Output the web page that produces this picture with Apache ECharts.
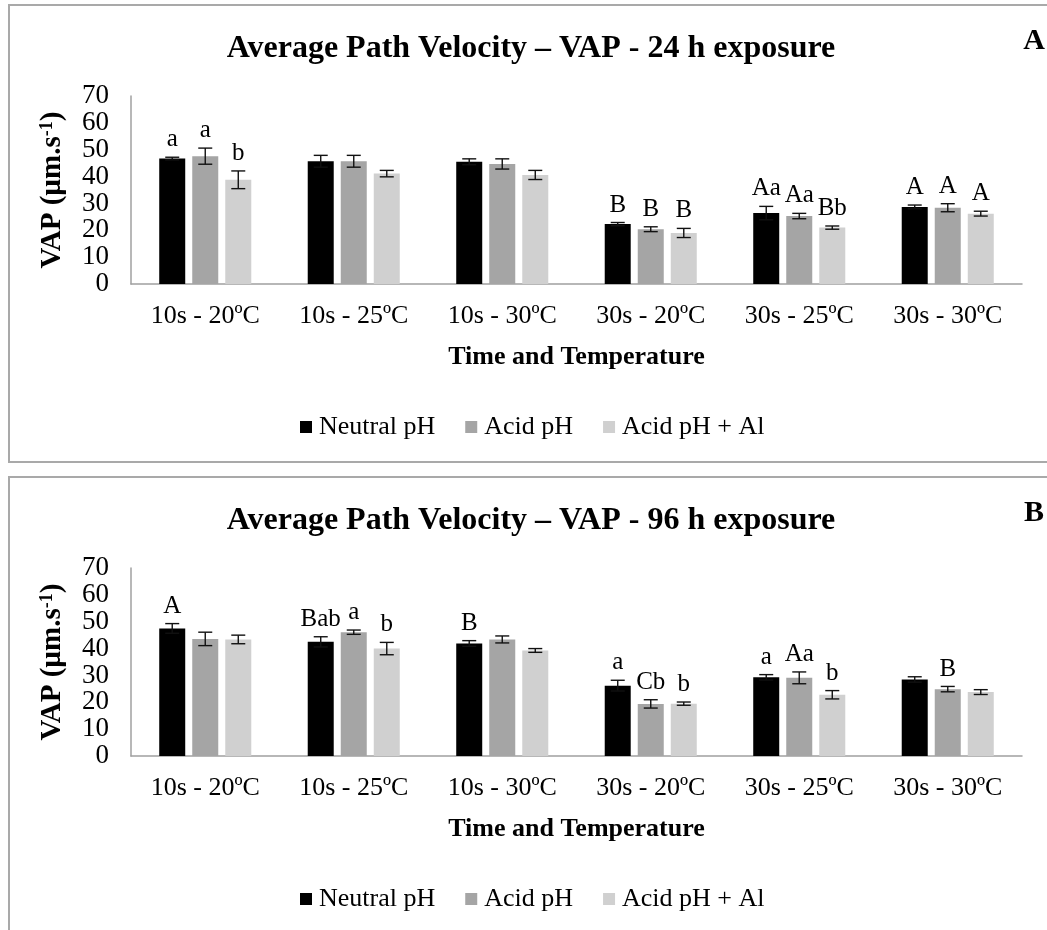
<!DOCTYPE html>
<html>
<head>
<meta charset="utf-8">
<script src="https://cdn.jsdelivr.net/npm/echarts@6/dist/echarts.min.js"></script>
<style>
  html, body { margin: 0; padding: 0; background: #ffffff; }
  #chart { width: 1047px; height: 930px; }
</style>
</head>
<body>
<div id="chart"></div>
<script>
// Categories and series names
const categories = ['10s - 20ºC', '10s - 25ºC', '10s - 30ºC', '30s - 20ºC', '30s - 25ºC', '30s - 30ºC'];
const seriesNames = ['Neutral pH', 'Acid pH', 'Acid pH + Al'];
const yTicks = [0, 10, 20, 30, 40, 50, 60, 70];

// Panel A: 24 h exposure (mean, error, significance letters)
const neutralA = [46.7, 45.7, 45.5, 22.3, 26.4, 28.7];
const neutralAErr = [0.5, 2.2, 1.1, 0.6, 2.5, 0.7];
const neutralALetters = ['a', '', '', 'B', 'Aa', 'A'];
const acidA = [47.6, 45.7, 44.7, 20.4, 25.3, 28.4];
const acidAErr = [3.0, 2.2, 1.9, 0.9, 1.0, 1.5];
const acidALetters = ['a', '', '', 'B', 'Aa', 'A'];
const acidAlA = [38.8, 41.1, 40.6, 19.0, 21.0, 26.2];
const acidAlAErr = [3.3, 1.2, 1.7, 1.7, 0.6, 0.9];
const acidAlALetters = ['b', '', '', 'B', 'Bb', 'A'];

// Panel B: 96 h exposure
const neutralB = [47.5, 42.5, 41.9, 26.2, 29.3, 28.5];
const neutralBErr = [1.8, 1.9, 1.05, 2.0, 1.0, 1.0];
const neutralBLetters = ['A', 'Bab', 'B', 'a', 'a', ''];
const acidB = [43.6, 46.1, 43.4, 19.4, 29.1, 24.9];
const acidBErr = [2.5, 0.8, 1.3, 1.55, 2.2, 1.0];
const acidBLetters = ['', 'a', '', 'Cb', 'Aa', 'B'];
const acidAlB = [43.4, 40.0, 39.3, 19.5, 22.8, 23.8];
const acidAlBErr = [1.6, 2.3, 0.7, 0.6, 1.55, 0.9];
const acidAlBLetters = ['', 'b', '', 'b', 'b', ''];

const titleA = 'Average Path Velocity – VAP - 24 h exposure';
const titleB = 'Average Path Velocity – VAP - 96 h exposure';

// Styling
const FONT = '"Liberation Serif", "Times New Roman", serif';
const colors = ['#000000', '#a5a5a5', '#d0d0d0'];
const BAR_W = 26;
const GAP_RATIO = 0.27;
const STEP = BAR_W * (1 + GAP_RATIO);
const PANEL_SHIFT = 472;

const panels = [
  { title: titleA, tag: 'A', values: [neutralA, acidA, acidAlA], errs: [neutralAErr, acidAErr, acidAlAErr],
    letters: [neutralALetters, acidALetters, acidAlALetters] },
  { title: titleB, tag: 'B', values: [neutralB, acidB, acidAlB], errs: [neutralBErr, acidBErr, acidAlBErr],
    letters: [neutralBLetters, acidBLetters, acidAlBLetters] }
];

// Error bars with caps, plus the significance letters above them
function errorBarRenderer(seriesIdx, letters) {
  return function (params, api) {
    const cat = api.value(0);
    const v = api.value(1);
    const e = api.value(2);
    const top = api.coord([cat, v + e]);
    const bottom = api.coord([cat, v - e]);
    const x = top[0] + (seriesIdx - 1) * STEP;
    const cap = 7;
    const children = [];
    const ls = { stroke: '#111', lineWidth: 1.4 };
    children.push({ type: 'line', shape: { x1: x, y1: top[1], x2: x, y2: bottom[1] }, style: ls });
    children.push({ type: 'line', shape: { x1: x - cap, y1: top[1], x2: x + cap, y2: top[1] }, style: ls });
    children.push({ type: 'line', shape: { x1: x - cap, y1: bottom[1], x2: x + cap, y2: bottom[1] }, style: ls });
    const txt = letters[params.dataIndex];
    if (txt) {
      children.push({
        type: 'text', x: x, y: top[1] - 5,
        style: { text: txt, fontFamily: FONT, fontSize: 25, fill: '#000',
                 textAlign: 'center', textVerticalAlign: 'bottom', align: 'center', verticalAlign: 'bottom' }
      });
    }
    return { type: 'group', children: children };
  };
}

const option = {
  backgroundColor: '#ffffff',
  animation: false,
  title: [],
  legend: [],
  grid: [],
  xAxis: [],
  yAxis: [],
  series: [],
  graphic: []
};

panels.forEach(function (p, pi) {
  const dy = pi * PANEL_SHIFT;
  option.graphic.push({
    type: 'rect', shape: { x: 9, y: 5 + dy, width: 1060, height: 457 },
    style: { fill: 'none', stroke: '#a9a9a9', lineWidth: 2 }, silent: true
  });
  option.graphic.push({
    type: 'text', x: 1034, y: 41 + dy,
    style: { text: p.tag, fontFamily: FONT, fontSize: 30, fontWeight: 'bold', fill: '#000',
             textAlign: 'center', textVerticalAlign: 'middle', align: 'center', verticalAlign: 'middle' }
  });
  option.title.push({
    text: p.title, left: 531, top: 33 + dy, textAlign: 'center', padding: 0,
    textStyle: { fontFamily: FONT, fontSize: 32, fontWeight: 'bold', color: '#000' }
  });
  option.legend.push({
    data: seriesNames.map(function (n) { return { name: n }; }),
    left: 300, top: 414 + dy, padding: 0,
    icon: 'rect', itemWidth: 12, itemHeight: 12, itemGap: 30,
    textStyle: { fontFamily: FONT, fontSize: 26, color: '#000', padding: [0, 0, 0, 2] },
    selectedMode: false
  });
  option.grid.push({ left: 131, top: 96 + dy, width: 891, height: 188, containLabel: false });
  option.xAxis.push({
    type: 'category', gridIndex: pi, data: categories,
    axisLine: { lineStyle: { color: '#a0a0a0', width: 1.5 } },
    axisTick: { show: false },
    axisLabel: { fontFamily: FONT, fontSize: 26, color: '#000', margin: 19 },
    name: 'Time and Temperature', nameLocation: 'middle', nameGap: 60,
    nameTextStyle: { fontFamily: FONT, fontSize: 26, fontWeight: 'bold', color: '#000' }
  });
  option.yAxis.push({
    type: 'value', gridIndex: pi, min: yTicks[0], max: yTicks[yTicks.length - 1], interval: 10,
    splitLine: { show: false },
    axisLine: { show: true, lineStyle: { color: '#a0a0a0', width: 1.5 } },
    axisTick: { show: false },
    axisLabel: { fontFamily: FONT, fontSize: 27, color: '#000', margin: 22 },
    name: '{b|VAP (µm.s}{s|-1}{b|)}', nameLocation: 'middle', nameGap: 64, nameRotate: 90,
    nameTextStyle: {
      fontFamily: FONT, fontSize: 29, fontWeight: 'bold', color: '#000',
      rich: {
        b: { fontFamily: FONT, fontSize: 29, fontWeight: 'bold', color: '#000' },
        s: { fontFamily: FONT, fontSize: 18, fontWeight: 'bold', color: '#000', verticalAlign: 'top' }
      }
    }
  });
  seriesNames.forEach(function (name, si) {
    option.series.push({
      name: name, type: 'bar', xAxisIndex: pi, yAxisIndex: pi,
      data: p.values[si], barWidth: BAR_W, barGap: (GAP_RATIO * 100) + '%',
      itemStyle: { color: colors[si] }
    });
  });
  seriesNames.forEach(function (name, si) {
    option.series.push({
      name: name + ' error', type: 'custom', xAxisIndex: pi, yAxisIndex: pi,
      renderItem: errorBarRenderer(si, p.letters[si]),
      data: p.values[si].map(function (v, i) { return [i, v, p.errs[si][i]]; }),
      z: 10, silent: true
    });
  });
});

const chart = echarts.init(document.getElementById('chart'), null, { renderer: 'canvas' });
chart.setOption(option);
</script>
</body>
</html>
